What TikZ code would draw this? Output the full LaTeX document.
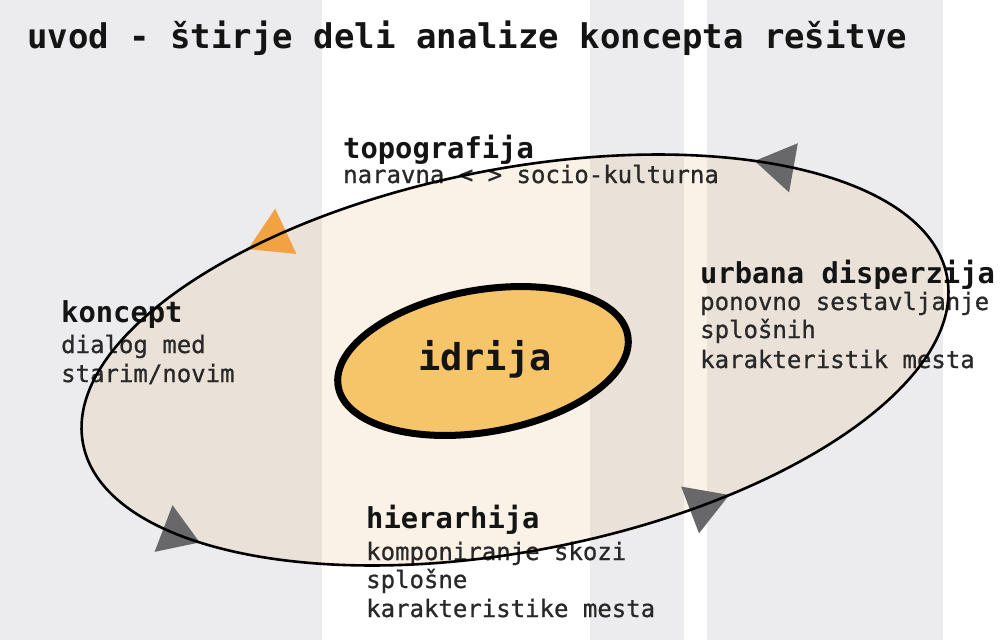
\documentclass[tikz,border=0pt]{standalone}
\usepackage{fontspec}
\newfontfamily\dvm{DejaVu Sans Mono}
\newfontfamily\dvmmed[FakeBold=0.8]{DejaVu Sans Mono}
\usetikzlibrary{calc}
\definecolor{stripegray}{RGB}{236,236,238}
\definecolor{tint}{RGB}{225,135,25}
\definecolor{core}{RGB}{246,197,106}
\definecolor{arrorange}{RGB}{242,162,64}
\definecolor{arrgray}{RGB}{104,104,106}
\definecolor{bodytext}{RGB}{40,40,40}
\begin{document}
\begin{tikzpicture}[x=1pt,y=1pt,
  titletext/.style={anchor=base west, inner sep=0pt, font=\dvm\bfseries\fontsize{34}{40}\selectfont, text=black!92},
  headtext/.style={anchor=base west, inner sep=0pt, font=\dvm\bfseries\fontsize{28.8}{34}\selectfont, text=black!92},
  bodyline/.style={anchor=base west, inner sep=0pt, font=\dvmmed\fontsize{24}{29}\selectfont, text=bodytext},
  cyclearrow/.style={draw=none}]
\useasboundingbox (0,0) rectangle (1002,-640);
% background stripes
\fill[white] (0,0) rectangle (1002,-640);
\fill[stripegray] (0,0) rectangle (322,-640);
\fill[stripegray] (590,0) rectangle (684,-640);
\fill[stripegray] (707,0) rectangle (943,-640);
% outer ellipse fill and arrow positions
\begin{scope}[shift={(515,-360)}, rotate=11]
  \fill[tint, fill opacity=0.1] (0,0) ellipse [x radius=440, y radius=191];
  \coordinate (tipA) at ({440*cos(51.6)},{191*sin(51.6)});
  \coordinate (baseA) at ({440*cos(45.2)},{191*sin(45.2)});
  \coordinate (tipB) at ({440*cos(123.2)},{191*sin(123.2)});
  \coordinate (baseB) at ({440*cos(117.1)},{191*sin(117.1)});
  \coordinate (tipC) at ({440*cos(218.5)},{191*sin(218.5)});
  \coordinate (baseC) at ({440*cos(211.0)},{191*sin(211.0)});
  \coordinate (tipD) at ({440*cos(294.8)},{191*sin(294.8)});
  \coordinate (baseD) at ({440*cos(289.0)},{191*sin(289.0)});
\end{scope}
% core ellipse
\draw[line width=7pt, fill=core, rotate around={10:(483,-361)}] (483,-361) ellipse [x radius=147, y radius=71];
\node[anchor=base, inner sep=0pt, font=\dvm\bfseries\fontsize{37}{44}\selectfont, text=black!92] (idrija) at (485,-370) {idrija};
% title
\node[titletext] (title) at (27,-48) {uvod - štirje deli analize koncepta rešitve};
% labels
\node[headtext] (topoh) at (343,-158) {topografija};
\node[bodyline] (topo1) at (343,-183) {naravna < > socio-kulturna};
\node[headtext] (konh) at (61,-322) {koncept};
\node[bodyline] (kon1) at (61,-353) {dialog med};
\node[bodyline] (kon2) at (61,-382) {starim/novim};
\node[headtext] (urbh) at (700,-283) {urbana disperzija};
\node[bodyline] (urb1) at (700,-310) {ponovno sestavljanje};
\node[bodyline] (urb2) at (700,-338) {splošnih};
\node[bodyline] (urb3) at (700,-368) {karakteristik mesta};
\node[headtext] (hierh) at (366,-528) {hierarhija};
\node[bodyline] (hier1) at (366,-560) {komponiranje skozi};
\node[bodyline] (hier2) at (366,-588) {splošne};
\node[bodyline] (hier3) at (366,-617) {karakteristike mesta};
% arrowheads on the cycle
\fill[cyclearrow, arrgray] (tipA) -- ($(baseA)!25pt!90:(tipA)$) -- ($(baseA)!25pt!-90:(tipA)$) -- cycle;
\fill[cyclearrow, arrorange] (tipB) -- ($(baseB)!25pt!90:(tipB)$) -- ($(baseB)!25pt!-90:(tipB)$) -- cycle;
\fill[cyclearrow, arrgray] (tipC) -- ($(baseC)!25pt!90:(tipC)$) -- ($(baseC)!25pt!-90:(tipC)$) -- cycle;
\fill[cyclearrow, arrgray] (tipD) -- ($(baseD)!25pt!90:(tipD)$) -- ($(baseD)!25pt!-90:(tipD)$) -- cycle;
% outer ellipse stroke
\begin{scope}[shift={(515,-360)}, rotate=11]
  \draw[line width=2.6pt] (0,0) ellipse [x radius=440, y radius=191];
\end{scope}
\end{tikzpicture}
\end{document}
